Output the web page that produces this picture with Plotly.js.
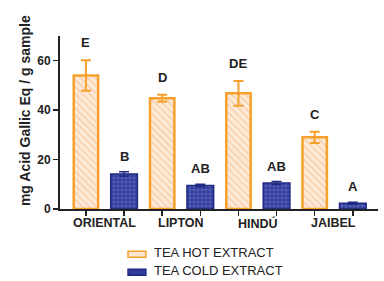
<!DOCTYPE html>
<html>
<head>
<meta charset="utf-8">
<script src="https://cdn.plot.ly/plotly-3.0.1.min.js"></script>
<style>html,body{margin:0;padding:0;background:#fff;}#chart{width:384px;height:281px;}</style>
</head>
<body>
<div id="chart"></div>
<script>
const categories = ['ORIENTAL', 'LIPTON', 'HINDÚ', 'JAIBEL'];
const hotValues = [54, 44.8, 46.8, 29];
const hotErrors = [6.2, 1.4, 5, 2.3];
const coldValues = [14.2, 9.5, 10.5, 2.3];
const coldErrors = [0.9, 0.5, 0.6, 0.4];
const hotLetters = ['E', 'D', 'DE', 'C'];
const coldLetters = ['B', 'AB', 'AB', 'A'];
const seriesNames = ['TEA HOT EXTRACT', 'TEA COLD EXTRACT'];
const yTitle = 'mg Acid Gallic Eq / g sample';
const yTicks = [0, 20, 40, 60];

const hotX = categories.map((c, i) => i * 2);
const coldX = categories.map((c, i) => i * 2 + 1);
const centerX = categories.map((c, i) => i * 2 + 0.5);

const FONT = 'Liberation Sans, Arial, sans-serif';
const ORANGE = '#f5a12c';
const PEACH = '#fde7d4';
const BLUE = '#2f3c9b';
const DARKBLUE = '#1f2a80';

const hot = {
  type: 'bar', name: seriesNames[0], x: hotX, y: hotValues, width: 0.64,
  marker: {
    color: PEACH,
    line: {color: ORANGE, width: 2.5},
    pattern: {shape: '\\', bgcolor: '#fde9d8', fgcolor: '#f7c9a2', size: 5, solidity: 0.25}
  },
  error_y: {type: 'data', array: hotErrors, visible: true, color: ORANGE, thickness: 2, width: 5},
  hoverinfo: 'none'
};
const cold = {
  type: 'bar', name: seriesNames[1], x: coldX, y: coldValues, width: 0.7,
  marker: {
    color: BLUE,
    line: {color: DARKBLUE, width: 1.5},
    pattern: {shape: '+', bgcolor: BLUE, fgcolor: '#8792d6', size: 4, solidity: 0.2}
  },
  error_y: {type: 'data', array: coldErrors, visible: true, color: DARKBLUE, thickness: 1.5, width: 5},
  hoverinfo: 'none'
};

const annotations = [];
categories.forEach((c, i) => {
  annotations.push({x: hotX[i], y: hotValues[i] + hotErrors[i], xref: 'x', yref: 'y', text: hotLetters[i],
    showarrow: false, yanchor: 'bottom', yshift: 8, font: {family: FONT, size: 13, color: '#222', weight: 'bold'}});
  annotations.push({x: coldX[i], y: coldValues[i] + coldErrors[i], xref: 'x', yref: 'y', text: coldLetters[i],
    showarrow: false, yanchor: 'bottom', yshift: 6, font: {family: FONT, size: 13, color: '#222', weight: 'bold'}});
  annotations.push({x: centerX[i], y: 0, xref: 'x', yref: 'paper', text: c, showarrow: false,
    yanchor: 'top', yshift: -5, font: {family: FONT, size: 12.5, color: '#222', weight: 'bold'}});
});

// y-axis title placed as a rotated annotation
annotations.push({x: -0.11, y: 0.566, xref: 'paper', yref: 'paper', text: yTitle, showarrow: false,
  textangle: -90, xanchor: 'center', yanchor: 'middle', font: {family: FONT, size: 14, color: '#222', weight: 'bold'}});

// manual legend (paper coordinates, below the plot)
const legendY = [-0.254, -0.358];
const swatchStyle = [{fill: PEACH, line: ORANGE}, {fill: BLUE, line: DARKBLUE}];
const shapes = [];
seriesNames.forEach((name, k) => {
  annotations.push({x: 0.289, y: legendY[k], xref: 'paper', yref: 'paper', text: name, showarrow: false,
    xanchor: 'left', yanchor: 'middle', font: {family: FONT, size: 13, color: '#222'}});
  shapes.push({type: 'rect', xref: 'paper', yref: 'paper', x0: 0.214, x1: 0.270,
    y0: legendY[k] - 0.025, y1: legendY[k] + 0.01,
    fillcolor: swatchStyle[k].fill, line: {color: swatchStyle[k].line, width: 1.5}});
});

const layout = {
  width: 384, height: 281,
  margin: {l: 60, r: 6, t: 36, b: 72},
  paper_bgcolor: '#fff', plot_bgcolor: '#fff',
  barmode: 'overlay',
  showlegend: false,
  xaxis: {
    range: [-0.68, 7.66], tickvals: hotX.concat(coldX), showticklabels: false,
    ticks: 'outside', ticklen: 5, tickwidth: 1.5, tickcolor: '#222',
    showline: true, linecolor: '#222', linewidth: 2, showgrid: false, zeroline: false
  },
  yaxis: {
    range: [0, 70], tickvals: yTicks, ticks: 'outside', ticklen: 5, tickwidth: 1.5, tickcolor: '#222',
    showline: true, linecolor: '#222', linewidth: 2, showgrid: false, zeroline: false,
    tickfont: {family: FONT, size: 12, color: '#222', weight: 'bold'}
  },
  annotations: annotations,
  shapes: shapes
};

Plotly.newPlot('chart', [hot, cold], layout, {staticPlot: true});
</script>
</body>
</html>
